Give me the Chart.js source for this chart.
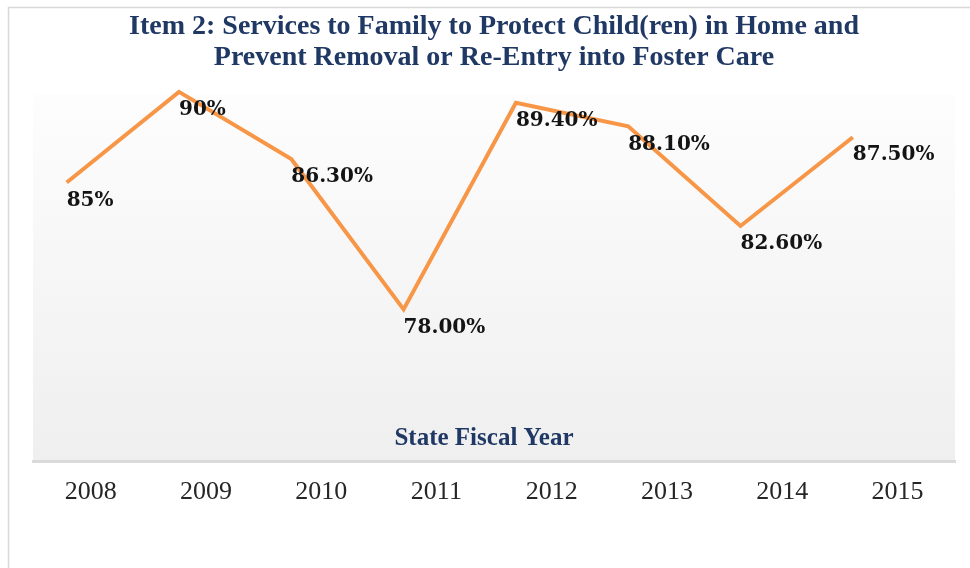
<!DOCTYPE html>
<html>
<head>
<meta charset="utf-8">
<title>Item 2: Services to Family to Protect Child(ren) in Home</title>
<script src="https://cdn.jsdelivr.net/npm/chart.js@4.4.1/dist/chart.umd.min.js"></script>
<style>
  html, body { margin: 0; padding: 0; background: #ffffff; }
  #wrap { width: 970px; height: 568px; }
</style>
</head>
<body>
<div id="wrap"><canvas id="chart" width="970" height="568"></canvas></div>
<script>
// State fiscal years and the share of cases rated a strength for Item 2
const categories = ['2008', '2009', '2010', '2011', '2012', '2013', '2014', '2015'];
const rates = [85, 90, 86.3, 78, 89.4, 88.1, 82.6, 87.5];
const rateDecimals = [0, 0, 2, 2, 2, 2, 2, 2];
const titleLines = [
  'Item 2: Services to Family to Protect Child(ren) in Home and',
  'Prevent Removal or Re-Entry into Foster Care'
];
const axisTitle = 'State Fiscal Year';

const NAVY = '#1f3864';

// Outer frame + shaded plot area
const backdrop = {
  id: 'backdrop',
  beforeDraw(chart) {
    const { ctx, chartArea: a, width, height } = chart;
    ctx.save();
    ctx.fillStyle = '#ffffff';
    ctx.fillRect(0, 0, width, height);
    ctx.strokeStyle = '#d8d8d8';
    ctx.lineWidth = 1.5;
    ctx.beginPath();
    ctx.moveTo(8.5, height);
    ctx.lineTo(8.5, 7.5);
    ctx.lineTo(width, 7.5);
    ctx.stroke();
    const g = ctx.createLinearGradient(0, a.top, 0, a.bottom);
    g.addColorStop(0, '#fdfdfd');
    g.addColorStop(1, '#efefef');
    ctx.fillStyle = g;
    ctx.fillRect(a.left, a.top, a.right - a.left, a.bottom - a.top);
    ctx.restore();
  }
};

// Value labels beside each point and the axis caption inside the plot
const annotations = {
  id: 'annotations',
  afterDatasetsDraw(chart) {
    const { ctx, chartArea: a } = chart;
    const meta = chart.getDatasetMeta(0);
    ctx.save();
    ctx.font = 'bold 20px "DejaVu Serif"';
    ctx.fillStyle = '#141414';
    ctx.textAlign = 'left';
    ctx.textBaseline = 'middle';
    meta.data.forEach((pt, i) => {
      const txt = rates[i].toFixed(rateDecimals[i]) + '%';
      ctx.fillText(txt, pt.x, pt.y + 18);
    });
    ctx.font = 'bold 25px "Liberation Serif"';
    ctx.fillStyle = NAVY;
    ctx.textAlign = 'center';
    ctx.fillText(axisTitle, (a.left + a.right) / 2 - 10, a.bottom - 23);
    ctx.restore();
  }
};

new Chart(document.getElementById('chart'), {
  type: 'line',
  data: {
    labels: categories,
    datasets: [{
      label: axisTitle,
      data: rates.map((v, i) => ({ x: i, y: v })),
      xAxisID: 'xLine',
      yAxisID: 'y',
      borderColor: '#f79646',
      borderWidth: 4,
      pointRadius: 0,
      pointHoverRadius: 0,
      tension: 0,
      fill: false,
      clip: false
    }]
  },
  options: {
    responsive: false,
    animation: false,
    events: [],
    layout: { padding: { top: 11, left: 33, right: 15, bottom: 45 } },
    plugins: {
      legend: { display: false },
      tooltip: { enabled: false },
      title: {
        display: true,
        text: titleLines,
        color: NAVY,
        font: { family: '"Liberation Serif"', size: 28, weight: 'bold', lineHeight: 1.11 },
        padding: { top: 0, bottom: 22 }
      }
    },
    scales: {
      x: {
        type: 'category',
        labels: categories,
        position: 'bottom',
        offset: true,
        grid: { display: false, drawTicks: false },
        border: { display: true, color: '#dadada', width: 3 },
        ticks: {
          color: '#262626',
          font: { family: '"Liberation Serif"', size: 26 },
          padding: 15,
          maxRotation: 0,
          autoSkip: false
        }
      },
      xLine: {
        type: 'linear',
        display: false,
        min: -0.3,
        max: 7.91
      },
      y: {
        type: 'linear',
        display: false,
        min: 69.59,
        max: 89.82
      }
    }
  },
  plugins: [backdrop, annotations]
});
</script>
</body>
</html>
